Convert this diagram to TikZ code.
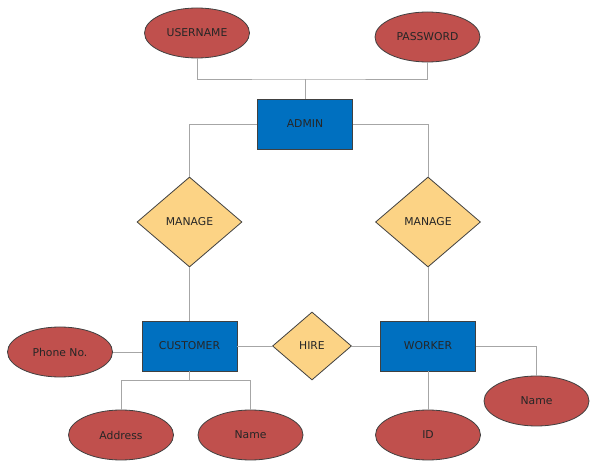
\documentclass[tikz,border=0pt]{standalone}
\usepackage{fontspec}
\setmainfont{DejaVu Sans}
\usepackage{xcolor}
\usepackage{tikz}
\usetikzlibrary{positioning,shapes.geometric}
\definecolor{attrred}{HTML}{C0504D}
\definecolor{entblue}{HTML}{0070C0}
\definecolor{relyel}{HTML}{FCD385}
\definecolor{edgegray}{HTML}{404040}
\definecolor{linegray}{HTML}{A6A6A6}

\begin{document}
\begin{tikzpicture}[
		x=1pt, y=-1pt,
		font=\fontsize{10.8}{12}\selectfont, text=black!85,
		attr/.style={ellipse, draw=edgegray, fill=attrred, line width=0.8pt,
				minimum width=105pt, minimum height=50pt, inner sep=0pt},
		ent/.style={draw=edgegray, fill=entblue, line width=0.8pt,
				minimum width=95pt, minimum height=50pt, inner sep=0pt},
		rel/.style={diamond, draw=edgegray, fill=relyel, line width=0.8pt,
				inner sep=0pt},
		conn/.style={draw=linegray, line width=0.9pt}
		]
		\useasboundingbox (0,0) rectangle (598,473);
		\node[attr] (user) at (197,33) {USERNAME};
		\node[attr] (pass) at (427.5,37) {PASSWORD};
		\node[ent] (admin) at (305,124) {ADMIN};
		\node[rel, minimum width=105pt, minimum height=90pt, aspect=1.17]
		(manL) at (189.5,222) {MANAGE};
		\node[rel, minimum width=105pt, minimum height=90pt, aspect=1.17]
		(manR) at (428,222) {MANAGE};
		\node[ent] (cust) at (189.5,346) {CUSTOMER};
		\node[rel, minimum width=79pt, minimum height=68pt, aspect=1.16]
		(hire) at (312,346) {HIRE};
		\node[ent] (work) at (428,346) {WORKER};
		\node[attr] (phone) at (60,352) {Phone No.};
		\node[attr] (addr) at (121,435) {Address};
		\node[attr] (cname) at (250.5,435) {Name};
		\node[attr] (wid) at (428,435) {ID};
		\node[attr] (wname) at (536.5,401) {Name};
		\coordinate (adtop) at (305,79);
		\coordinate (cubot) at (189.5,380);
		\draw[conn] (user.south) |- (adtop) -| (pass.south);
		\draw[conn] (adtop) -- (admin.north);
		\draw[conn] (admin.west) -| (manL.north);
		\draw[conn] (admin.east) -| (manR.north);
		\draw[conn] (manL.south) -- (cust.north);
		\draw[conn] (manR.south) -- (work.north);
		\draw[conn] (cust.east) -- (hire.west);
		\draw[conn] (hire.east) -- (work.west);
		\draw[conn] (phone.east) -- (phone.east -| cust.west);
		\draw[conn] (cust.south) -- (cubot) -| (addr.north);
		\draw[conn] (cubot) -| (cname.north);
		\draw[conn] (work.east) -| (wname.north);
		\draw[conn] (work.south) -- (wid.north);
	\end{tikzpicture}
\end{document}
